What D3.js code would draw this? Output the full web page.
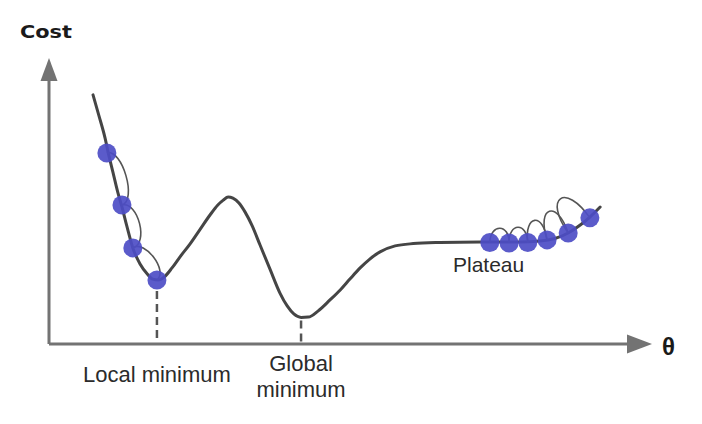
<!DOCTYPE html>
<html>
<head>
<meta charset="utf-8">
<script src="https://cdn.jsdelivr.net/npm/d3@7"></script>
<style>
html,body{margin:0;padding:0;background:#fff;}
svg{display:block;}
</style>
</head>
<body>
<svg id="chart" width="702" height="424"></svg>
<script>
// ---- data (theta, cost in arbitrary units) ----
const curveTheta = [0.73,0.83,0.93,0.98,1.06,1.14,1.21,1.29,1.39,1.51,1.63,1.72,1.81,1.91,2.04,2.17,2.34,2.50,2.67,2.80,2.89,2.97,3.05,3.15,3.25,3.37,3.50,3.67,3.83,3.95,4.06,4.18,4.30,4.46,4.66,4.83,4.99,5.16,5.32,5.49,5.74,6.04,6.48,7.15,7.81,8.14,8.39,8.61,8.81,8.97,9.14];
const curveCost  = [8.71,7.97,7.20,6.71,6.01,5.31,4.79,4.13,3.36,2.80,2.45,2.27,2.24,2.34,2.66,3.04,3.50,3.99,4.51,4.86,5.03,5.14,5.10,4.93,4.62,4.13,3.46,2.59,1.78,1.33,1.05,0.93,0.94,1.15,1.54,1.89,2.27,2.66,2.97,3.22,3.43,3.51,3.55,3.57,3.57,3.60,3.69,3.88,4.16,4.44,4.79];

const localBallTheta = [0.96,1.21,1.39,1.79];
const localBallCost  = [6.68,4.86,3.36,2.24];
const plateauBallTheta = [7.31,7.63,7.94,8.26,8.61,8.97];
const plateauBallCost  = [3.55,3.53,3.55,3.64,3.88,4.41];

const localMin = {theta:1.79, cost:2.24, label:["Local minimum"]};
const globalMin = {theta:4.18, cost:0.93, label:["Global","minimum"]};
const plateauLabel = {theta:7.29, text:"Plateau"};
const axisLabels = {y:"Cost", x:"θ"};

// ---- scales ----
const svg = d3.select("#chart");
const x = d3.scaleLinear().domain([0,10]).range([49,652]);
const y = d3.scaleLinear().domain([0,10]).range([344,58]);

const axisColor = "#737373";
const lineColor = "#454545";
const ballColor = "#4d4dc6";

// ---- axes ----
svg.append("line").attr("x1",x(0)).attr("y1",y(0)).attr("x2",x(0)).attr("y2",y(10)+20)
  .attr("stroke",axisColor).attr("stroke-width",3);
svg.append("line").attr("x1",x(0)).attr("y1",y(0)).attr("x2",x(10)-22).attr("y2",y(0))
  .attr("stroke",axisColor).attr("stroke-width",3);
// arrowheads
svg.append("path")
  .attr("d",`M${x(0)},${y(10)} L${x(0)-8.5},${y(10)+23} L${x(0)+8.5},${y(10)+23} Z`)
  .attr("fill",axisColor);
svg.append("path")
  .attr("d",`M${x(10)},${y(0)} L${x(10)-25},${y(0)-9.5} L${x(10)-25},${y(0)+9.5} Z`)
  .attr("fill",axisColor);

svg.append("text").attr("x",20).attr("y",38).text(axisLabels.y)
  .attr("font-family","DejaVu Sans, sans-serif").attr("font-weight","bold").attr("font-size",18)
  .attr("textLength",52).attr("lengthAdjust","spacingAndGlyphs").attr("fill","#1a1a1a");
svg.append("text").attr("x",x(10)+10).attr("y",y(0)+11).text(axisLabels.x)
  .attr("font-family","Liberation Sans, Arial, sans-serif").attr("font-weight","bold").attr("font-size",24)
  .attr("fill","#1a1a1a");

// ---- dashed guides ----
svg.append("line").attr("x1",x(localMin.theta)).attr("x2",x(localMin.theta))
  .attr("y1",y(localMin.cost)+11).attr("y2",y(0)-2)
  .attr("stroke","#555").attr("stroke-width",2.5).attr("stroke-dasharray","8,5");
svg.append("line").attr("x1",x(globalMin.theta)).attr("x2",x(globalMin.theta))
  .attr("y1",y(globalMin.cost)+3).attr("y2",y(0)-2)
  .attr("stroke","#555").attr("stroke-width",2.5).attr("stroke-dasharray","8,5");

// ---- curve ----
const pts = curveTheta.map((t,i)=>[t,curveCost[i]]);
const line = d3.line().x(d=>x(d[0])).y(d=>y(d[1])).curve(d3.curveMonotoneX);
svg.append("path").attr("d",line(pts)).attr("fill","none")
  .attr("stroke",lineColor).attr("stroke-width",3).attr("stroke-linecap","round");

// ---- jump arcs ----
function jumpPath(a,b,h){
  const x1=x(a[0]), y1=y(a[1]), x2=x(b[0]), y2=y(b[1]);
  const dx=x2-x1, dy=y2-y1, L=Math.hypot(dx,dy);
  const px=dy/L, py=-dx/L, k=h*4/3;
  return `M${x1},${y1} C${x1+px*k},${y1+py*k} ${x2+px*k},${y2+py*k} ${x2},${y2}`;
}
const localBalls = localBallTheta.map((t,i)=>[t,localBallCost[i]]);
const plateauBalls = plateauBallTheta.map((t,i)=>[t,plateauBallCost[i]]);
const localBulge = [12,12.5,11];
const plateauBulge = [14.5,15.5,21,26.5,32.5];
const arcs = [];
for(let i=0;i<localBalls.length-1;i++) arcs.push(jumpPath(localBalls[i],localBalls[i+1],localBulge[i]));
for(let i=0;i<plateauBalls.length-1;i++) arcs.push(jumpPath(plateauBalls[i],plateauBalls[i+1],plateauBulge[i]));
svg.selectAll("path.arc").data(arcs).join("path").attr("class","arc")
  .attr("d",d=>d).attr("fill","none").attr("stroke","#555").attr("stroke-width",1.6);

// ---- balls ----
svg.selectAll("circle.ball").data(localBalls.concat(plateauBalls)).join("circle")
  .attr("class","ball").attr("cx",d=>x(d[0])).attr("cy",d=>y(d[1])).attr("r",9.5)
  .attr("fill",ballColor).attr("fill-opacity",0.92);

// ---- labels ----
const lf = "Liberation Sans, Arial, sans-serif";
svg.append("text").attr("x",x(localMin.theta)).attr("y",382).attr("text-anchor","middle")
  .attr("font-family",lf).attr("font-size",22).attr("fill","#2b2b2b").text(localMin.label[0]);
svg.append("text").attr("x",x(globalMin.theta)).attr("y",371).attr("text-anchor","middle")
  .attr("font-family",lf).attr("font-size",22).attr("fill","#2b2b2b").text(globalMin.label[0]);
svg.append("text").attr("x",x(globalMin.theta)).attr("y",397).attr("text-anchor","middle")
  .attr("font-family",lf).attr("font-size",22).attr("fill","#2b2b2b").text(globalMin.label[1]);
svg.append("text").attr("x",x(plateauLabel.theta)).attr("y",272).attr("text-anchor","middle")
  .attr("font-family",lf).attr("font-size",21).attr("fill","#2b2b2b").text(plateauLabel.text);
</script>
</body>
</html>
